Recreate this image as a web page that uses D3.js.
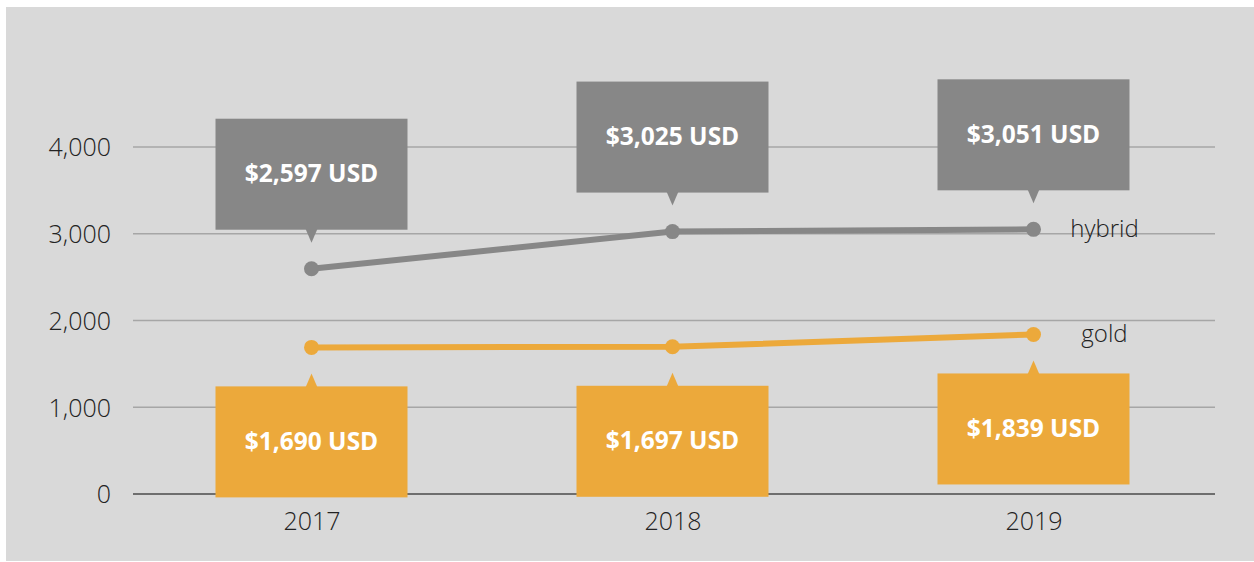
<!DOCTYPE html>
<html>
<head>
<meta charset="utf-8">
<script src="https://cdn.jsdelivr.net/npm/d3@7"></script>
<style>
  html, body { margin: 0; padding: 0; background: #ffffff; }
  svg { display: block; }
  text { font-family: "Open Sans", "Noto Sans", sans-serif; }
</style>
</head>
<body>
<svg id="chart" width="1254" height="562"></svg>
<script>
const years = ["2017", "2018", "2019"];
const hybridValues = [2597, 3025, 3051];
const goldValues = [1690, 1697, 1839];
const seriesNames = ["hybrid", "gold"];
const yTicks = [0, 1000, 2000, 3000, 4000];

const W = 1254, H = 562;
const svg = d3.select("#chart");

svg.append("rect").attr("x", 6).attr("y", 7).attr("width", W - 6).attr("height", H - 8)
  .attr("fill", "#d9d9d9");

const x = d3.scalePoint().domain(years).range([131, 1214]).padding(0.5);
const y = d3.scaleLinear().domain([0, 4000]).range([494, 147]);

// gridlines
const grid = svg.append("g");
grid.selectAll("line").data(yTicks).join("line")
  .attr("x1", 133).attr("x2", 1215)
  .attr("y1", d => y(d)).attr("y2", d => y(d))
  .attr("stroke", d => d === 0 ? "#6e6e6e" : "#a6a6a6")
  .attr("stroke-width", d => d === 0 ? 2 : 1.3);

// y axis labels
const yAxis = d3.axisLeft(y).tickValues(yTicks).tickSize(0).tickPadding(0)
  .tickFormat(d3.format(","));
const yg = svg.append("g").attr("transform", "translate(111,0)").call(yAxis);
yg.select(".domain").remove();
yg.selectAll("text").attr("font-size", 25).attr("font-weight", 300)
  .attr("fill", "#222").style("font-family", '"Open Sans", sans-serif')
  .attr("dy", "0.35em");

// x axis labels
const xAxis = d3.axisBottom(x).tickSize(0).tickPadding(0);
const xg = svg.append("g").attr("transform", "translate(0,511)").call(xAxis);
xg.select(".domain").remove();
xg.selectAll("text").attr("font-size", 25).attr("font-weight", 300)
  .attr("fill", "#222").style("font-family", '"Open Sans", sans-serif')
  .attr("dy", "0.75em");

const series = [
  { name: seriesNames[0], values: hybridValues, color: "#878787", above: true },
  { name: seriesNames[1], values: goldValues, color: "#eca93b", above: false }
];

const line = d3.line().x((d, i) => x(years[i])).y(d => y(d));
const fmt = d3.format(",");

series.forEach(s => {
  const g = svg.append("g");
  g.append("path").datum(s.values).attr("d", line)
    .attr("fill", "none").attr("stroke", s.color).attr("stroke-width", 6)
    .attr("stroke-linejoin", "round");
  g.selectAll("circle").data(s.values).join("circle")
    .attr("cx", (d, i) => x(years[i])).attr("cy", d => y(d)).attr("r", 7.5)
    .attr("fill", s.color);

  // callouts
  const boxW = 192, boxH = 111, gapBox = 39, gapTip = 26, triHalf = 6;
  const c = g.selectAll("g.callout").data(s.values).join("g").attr("class", "callout");
  c.append("rect")
    .attr("x", (d, i) => x(years[i]) - boxW / 2)
    .attr("y", d => s.above ? y(d) - gapBox - boxH : y(d) + gapBox)
    .attr("width", boxW).attr("height", boxH)
    .attr("fill", s.color);
  c.append("path")
    .attr("d", (d, i) => {
      const cx = x(years[i]), py = y(d);
      if (s.above) {
        const b = py - gapBox, t = py - gapTip;
        return `M${cx - triHalf},${b - 1}L${cx + triHalf},${b - 1}L${cx},${t}Z`;
      } else {
        const b = py + gapBox, t = py + gapTip;
        return `M${cx - triHalf},${b + 1}L${cx + triHalf},${b + 1}L${cx},${t}Z`;
      }
    })
    .attr("fill", s.color);
  c.append("text")
    .attr("x", (d, i) => x(years[i]))
    .attr("y", d => s.above ? y(d) - gapBox - boxH / 2 : y(d) + gapBox + boxH / 2)
    .attr("dy", "0.33em")
    .attr("text-anchor", "middle")
    .attr("font-size", 24.5).attr("font-weight", 700).attr("fill", "#ffffff")
    .text(d => `$${fmt(d)} USD`);

  // series label
  g.append("text")
    .attr("x", x(years[years.length - 1]) + 71)
    .attr("y", y(s.values[s.values.length - 1]))
    .attr("dy", "0.3em")
    .attr("text-anchor", "middle")
    .attr("font-size", 24).attr("font-weight", 300).attr("fill", "#222")
    .text(s.name);
});
</script>
</body>
</html>
